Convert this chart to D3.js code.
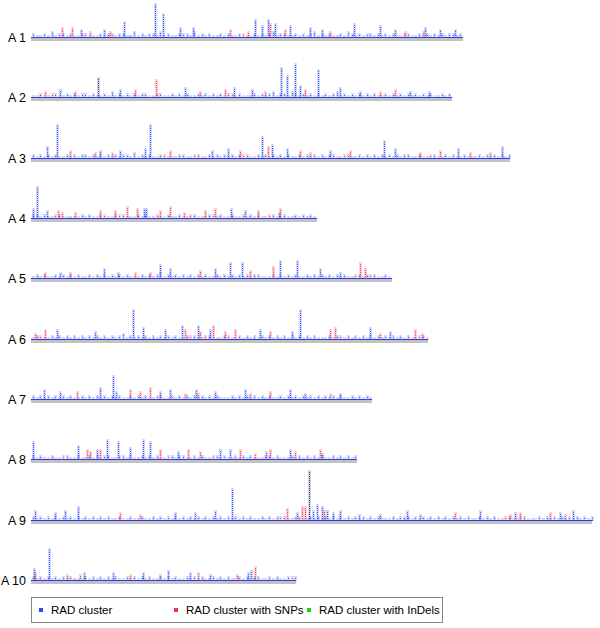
<!DOCTYPE html>
<html><head><meta charset="utf-8">
<script src="https://cdn.jsdelivr.net/npm/d3@7"></script>
<style>body{margin:0;background:#fff}svg{display:block}text{font-family:"Liberation Sans",Arial,sans-serif}</style>
</head><body><div id="chart"></div>
<script>
// ---------- DATA ----------
const chromNames = ["A 1","A 2","A 3","A 4","A 5","A 6","A 7","A 8","A 9","A 10"];
const chromLengths = [28.8, 28.07, 31.93, 19.07, 24.07, 26.47, 22.73, 21.73, 37.4, 17.67]; // Mb

// background clusters per 0.25 Mb bin: digit = blue count, a/b = red count 1/2, g = InDel
const bgA1 = "2112131221 2a1b2a1a21 2b12211312 1221312112 2213121211 2121a2b1a2 1212312211 2121231212 1121321212 2121212a1b 2a12121212 1221211212";
const bgA2 = "1a2a1b2a12 1212212112 1312121212 2a1b2a1212 1211212121 2a2b121a12 1212312213 2121212121 2312121212 121a212121 2121212a12 1212121212";
const bgA3 = "2121212a12 1212212121 2121221312 121a2b1a12 2a1b2a1212 1212a2b2a1 2121212121 1212121212 2a1b2a1212 1212121212 2a12a1b2a1 212a121a12 1212121212";
const bgA4 = "2212a1b2a1 g1a2121a2b 1a2b2a1a21 2a1b1g2a12 a1b2a1a2b1 2a12a1b121 2a1b2a12a1 2121212121";
const bgA5 = "1212a12121 2121a21212 1212121a12 1212312121 2121212a12 1212121212 21a1212121 2a12121212 1212a1b2a2 b2a1212121";
const bgA6 = "a2b1a21212 1212121212 1212312121 2121212121 a2b2a1b2a1 a2b1a21212 1212121212 1212121a12 a2b1212121 2121212121 2a1b2a1212";
const bgA7 = "2121212121 2a12121212 1212a12121 2a1b2a1b12 1212121212 1a12121212 1212a12121 2121212121 212a121212 1212121212";
const bgA8 = "2121a2a1b2 a12a121212 2a1b212a12 1212a1b212 2a1212a1b2 121a212121 a1b2121a12 1212a2121a 2121212121";
const bgA9 = "2121212121 2121212121 2a12a12a12 a121212121 2121212121 2121212121 1212a2b2a1 b2a1212121 2121212121 212a1a2121 2121212121 2121212a12 1212a1b2a1 b2a1a21212 1212121212";
const bgA10 = "2a21212121 2a1g212121 2121a21212 12a1212121 a21212a121 2121a21212 2a12121a2b 2a12121212";

// larger stacks: [position Mb, cluster count, type]  b=RAD cluster, r=with SNPs, g=with InDels, k=overlapping
const peaksA1 = [[8.27,17,"b"],[8.8,12,"b"],[6.2,8,"b"],[9.93,5,"b"],[10.8,5,"b"],[4.87,4,"b"],[3.33,4,"b"],[14.93,9,"b"],[15.4,6,"b"],[15.8,9,"b"],[16.27,7,"b"],[17.27,6,"b"],[18.6,5,"b"],[19.4,4,"b"],[21.53,7,"b"],[23.27,6,"b"],[24.27,4,"b"],[26.27,5,"b"],[27.27,4,"b"],[28.27,4,"b"],
  [2.07,5,"r"],[2.73,5,"r"],[3.93,3,"r"],[5.27,3,"r"],[13.27,4,"r"],[14.47,3,"r"],[15.93,7,"r"],[16.93,4,"r"],[19.93,3,"r"],[24.93,3,"r"],[26.13,3,"r"],[5.1,1,"g"],[6.6,1,"g"]];
const peaksA2 = [[4.47,10,"k"],[10.27,5,"b"],[13.53,5,"b"],[14.73,4,"b"],[16.67,15,"b"],[17.07,11,"b"],[17.6,17,"b"],[17.93,6,"b"],[19.13,14,"b"],[20.6,5,"b"],[21.93,3,"b"],[25.27,3,"b"],[26.53,3,"b"],[1.93,4,"b"],[5.93,4,"b"],
  [8.33,9,"r"],[0.93,3,"r"],[2.93,3,"r"],[6.93,4,"r"],[11.27,3,"r"],[12.93,4,"r"],[15.6,3,"r"],[18.27,4,"r"],[23.27,3,"r"],[24.27,4,"r"]];
const peaksA3 = [[1.73,17,"b"],[1.07,6,"b"],[7.93,17,"b"],[7.6,5,"b"],[4.6,4,"b"],[5.93,4,"b"],[12.07,4,"b"],[13.13,5,"b"],[15.4,11,"b"],[16.07,7,"b"],[17.07,5,"b"],[23.53,9,"b"],[24.27,5,"b"],[28.47,5,"b"],[31.4,6,"b"],[19.93,4,"b"],
  [2.6,4,"r"],[4.27,3,"r"],[5.4,3,"r"],[9.27,4,"r"],[13.93,4,"r"],[15.8,6,"r"],[17.93,4,"r"],[18.6,3,"r"],[21.27,4,"r"],[25.93,3,"r"],[27.27,4,"r"],[29.27,3,"r"],[30.6,3,"r"]];
const peaksA4 = [[0.4,16,"b"],[0.13,5,"b"],[1.07,4,"b"],[7.53,5,"b"],[7.67,5,"b"],[13.33,5,"b"],[14.27,4,"b"],[16.53,3,"b"],
  [1.8,4,"r"],[2.07,3,"r"],[2.93,3,"r"],[4.6,4,"r"],[5.6,4,"r"],[6.4,6,"r"],[7.07,5,"r"],[8.6,4,"r"],[9.27,6,"r"],[10.2,3,"r"],[11.6,4,"r"],[12.27,5,"r"],[15.13,4,"r"],[16.6,5,"r"],[2.6,1,"g"]];
const peaksA5 = [[4.87,5,"b"],[5.8,3,"b"],[8.6,7,"b"],[9.27,5,"b"],[12.27,5,"b"],[13.27,8,"b"],[14.07,8,"b"],[16.6,9,"b"],[17.73,9,"b"],[19.27,5,"b"],[20.6,3,"b"],[1.93,3,"b"],
  [21.93,8,"r"],[22.27,5,"r"],[0.93,3,"r"],[2.6,3,"r"],[6.93,3,"r"],[11.27,4,"r"],[14.6,4,"r"],[16.13,6,"r"],[7.93,3,"r"]];
const peaksA6 = [[6.8,15,"b"],[7.47,6,"b"],[17.93,15,"b"],[1.73,5,"b"],[4.27,4,"b"],[8.93,5,"b"],[10.07,7,"b"],[11.13,7,"b"],[11.93,5,"b"],[15.27,5,"b"],[17.4,4,"b"],[22.6,6,"b"],[23.93,4,"b"],
  [0.27,3,"r"],[0.93,5,"r"],[10.27,5,"r"],[11.27,4,"r"],[12.13,7,"r"],[12.93,4,"r"],[13.6,5,"r"],[15.93,4,"r"],[19.93,5,"r"],[20.27,6,"r"],[23.27,3,"r"],[25.6,5,"r"],[26.07,3,"r"]];
const peaksA7 = [[5.47,12,"b"],[0.87,5,"b"],[1.93,4,"b"],[4.6,6,"b"],[5.67,4,"b"],[8.6,4,"b"],[9.27,5,"b"],[11.0,5,"b"],[12.27,4,"b"],[14.27,5,"b"],[17.27,5,"b"],[18.27,3,"b"],[20.6,3,"b"],
  [3.07,4,"r"],[6.6,5,"r"],[7.27,4,"r"],[7.93,6,"r"],[10.27,3,"r"],[11.13,3,"r"],[14.6,3,"r"],[15.93,4,"r"],[19.93,3,"r"]];
const peaksA8 = [[0.13,9,"b"],[3.13,7,"b"],[4.4,5,"b"],[5.07,10,"b"],[5.8,9,"b"],[6.6,6,"b"],[7.47,10,"b"],[7.93,9,"b"],[9.8,4,"b"],[12.6,5,"b"],[13.27,5,"b"],[15.67,4,"b"],[17.27,5,"b"],[19.4,3,"b"],
  [3.73,5,"r"],[3.93,4,"r"],[4.6,5,"r"],[8.6,5,"r"],[10.47,5,"r"],[11.27,4,"r"],[13.93,5,"r"],[14.93,3,"r"],[15.93,5,"r"],[17.6,4,"r"],[19.27,5,"r"]];
const peaksA9 = [[13.4,16,"b"],[18.53,25,"k"],[0.27,5,"b"],[1.6,4,"b"],[2.27,5,"b"],[3.13,7,"b"],[9.6,4,"b"],[10.93,4,"b"],[12.27,5,"b"],[17.73,4,"b"],[18.8,5,"b"],[19.07,8,"b"],[19.4,7,"b"],[19.73,5,"b"],[20.13,4,"b"],[20.6,5,"b"],[21.87,3,"b"],[23.27,3,"b"],[25.07,5,"b"],[25.93,3,"b"],[29.93,5,"b"],[32.27,4,"b"],[35.27,4,"b"],[36.13,5,"b"],
  [17.07,6,"r"],[18.07,7,"r"],[18.27,7,"r"],[19.53,5,"r"],[5.93,4,"r"],[7.27,3,"r"],[24.87,2,"r"],[28.27,4,"r"],[31.93,3,"r"],[32.6,4,"r"],[34.6,4,"r"],[35.6,3,"r"]];
const peaksA10 = [[1.2,16,"b"],[0.2,6,"b"],[3.53,4,"b"],[7.47,4,"b"],[9.13,5,"b"],[10.6,4,"b"],[14.47,4,"b"],[14.67,5,"b"],[5.47,4,"b"],[11.93,3,"b"],
  [0.27,4,"r"],[2.4,3,"r"],[3.27,3,"r"],[6.6,3,"r"],[8.6,3,"r"],[11.13,4,"r"],[13.73,3,"r"],[14.93,7,"r"],[14.87,1,"g"],[2.87,1,"g"]];

const legendLabels = ["RAD cluster","RAD cluster with SNPs","RAD cluster with InDels"];
const legendTypes = ["b","r","g"];

// ---------- BUILD ----------
const backgrounds = [bgA1,bgA2,bgA3,bgA4,bgA5,bgA6,bgA7,bgA8,bgA9,bgA10];
const peaks = [peaksA1,peaksA2,peaksA3,peaksA4,peaksA5,peaksA6,peaksA7,peaksA8,peaksA9,peaksA10];
const color = {b:"#3448f0", r:"#f0334a", g:"#22cc22", k:"#303070"};

const W = 600, H = 628;
const svg = d3.select("#chart").append("svg").attr("width", W).attr("height", H);
const x = d3.scaleLinear().domain([0, 37.4]).range([31, 592]);
const y = d3.scalePoint().domain(chromNames).range([37, 580]);
const h = d3.scaleLinear().domain([0, 25]).range([0, 50]);

chromNames.forEach((name, ci) => {
  const y0 = Math.round(y(name));
  const len = chromLengths[ci];
  const g = svg.append("g");
  const bg = backgrounds[ci].replace(/\s/g, "").split("").map((c, i) => {
    const pos = i * 0.25 + 0.125;
    let t = "b", n = 0;
    if (/[0-9]/.test(c)) { n = +c; }
    else if (c === "g") { t = "g"; n = 1; }
    else { t = "r"; n = c.charCodeAt(0) - 96; }
    return [pos, n, t];
  }).filter(d => d[0] <= len && d[1] > 0);
  const all = bg.concat(peaks[ci]).sort((a, b) => b[1] - a[1]);
  const px = d => Math.round(x(d[0])) + 0.5;

  // gray chromosome bar
  g.append("rect").attr("x", x(0)).attr("y", y0 + 1).attr("width", x(len) - x(0)).attr("height", 3).attr("fill", "#c2c2c2");

  // halo of each stack
  g.selectAll("line.halo").data(all).enter().append("line")
    .attr("class", "halo")
    .attr("x1", px).attr("x2", px)
    .attr("y1", y0 + 1).attr("y2", d => y0 + 1 - h(d[1]) - 1)
    .attr("stroke", d => color[d[2]])
    .attr("stroke-opacity", 0.22)
    .attr("stroke-width", 3);

  // dotted stacks
  g.selectAll("line.pk").data(all).enter().append("line")
    .attr("class", "pk")
    .attr("x1", px).attr("x2", px)
    .attr("y1", y0 + 1).attr("y2", d => y0 + 1 - h(d[1]))
    .attr("stroke", d => color[d[2]])
    .attr("stroke-opacity", 0.9)
    .attr("stroke-width", 1)
    .attr("stroke-dasharray", "1,1");

  // dense base line of clusters
  g.append("line").attr("x1", x(0)).attr("x2", x(len)).attr("y1", y0 + 0.5).attr("y2", y0 + 0.5)
    .attr("stroke", "#2b3fe6").attr("stroke-width", 1);

  svg.append("text").attr("x", 26).attr("y", y0 + 4.5).attr("text-anchor", "end")
    .attr("font-size", 12.5).attr("fill", "#000").text(name);
});

// legend
const lg = svg.append("g");
lg.append("rect").attr("x", 31.5).attr("y", 597.5).attr("width", 411).attr("height", 25)
  .attr("fill", "#fff").attr("stroke", "#888").attr("stroke-width", 1);
const legendX = [39, 174, 307];
legendLabels.forEach((lab, i) => {
  lg.append("rect").attr("x", legendX[i]).attr("y", 608).attr("width", 4).attr("height", 4)
    .attr("fill", color[legendTypes[i]]);
  lg.append("text").attr("x", legendX[i] + 12).attr("y", 614).attr("font-size", 11.5).attr("fill", "#000").text(lab);
});
</script>
</body></html>
